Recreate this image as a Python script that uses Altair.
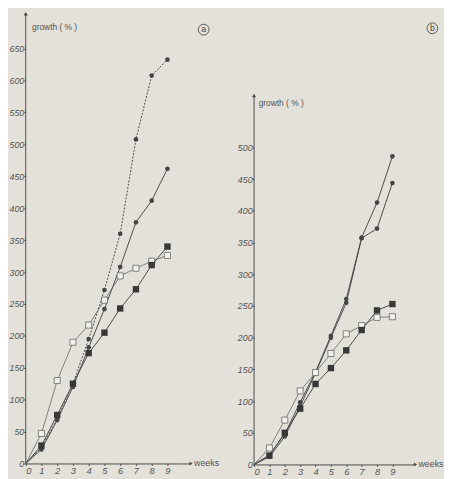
import altair as alt
import pandas as pd

weeks = [0, 1, 2, 3, 4, 5, 6, 7, 8, 9]

# panel a
a_circle_top = [0, 25, 70, 125, 195, 272, 360, 508, 608, 633]
a_circle = [0, 22, 68, 120, 182, 242, 308, 378, 412, 462]
a_open = [0, 47, 130, 190, 217, 256, 294, 306, 317, 326]
a_square = [0, 28, 76, 125, 173, 205, 243, 273, 311, 340]
a_ticks = [0, 50, 100, 150, 200, 250, 300, 350, 400, 450, 500, 550, 600, 650]

# panel b
b_circle_top = [0, 15, 48, 98, 146, 203, 261, 358, 413, 486]
b_circle = [0, 12, 44, 92, 144, 200, 255, 357, 372, 444]
b_open = [0, 26, 70, 116, 145, 175, 206, 219, 232, 233]
b_square = [0, 14, 50, 88, 127, 152, 180, 212, 243, 253]
b_ticks = [0, 50, 100, 150, 200, 250, 300, 350, 400, 450, 500]

BG = "#e3e1d9"
INK = "#4a4a4a"
FONT = "Liberation Sans"


def panel(series, ticks, ymax, axis_top, width, height, letter, letter_pos,
          ylabel_pos, weeks_x):
    xs = alt.Scale(domain=[0, 10.5], nice=False, zero=False)
    ys = alt.Scale(domain=[0, ymax], nice=False, zero=False)
    xax = alt.Axis(values=weeks, title=None, grid=False, domainColor=INK,
                   tickColor=INK, tickSize=2, labelFont=FONT, labelFontSize=9.5,
                   labelFontStyle="italic", labelColor="#555", labelPadding=0,
                   labelOverlap=False, tickCount=10)
    yax = alt.Axis(values=ticks, title=None, grid=False, domain=False,
                   tickColor=INK, tickSize=2, labelFont=FONT, labelFontSize=9,
                   labelFontStyle="italic", labelColor="#555", labelPadding=0,
                   labelOverlap=False, tickCount=len(ticks))

    def X(**kw):
        return alt.X(scale=xs, axis=xax, **kw)

    def Y(**kw):
        return alt.Y(scale=ys, axis=yax, **kw)

    one = alt.Data(values=[{"k": 1}])
    layers = []
    # y axis line with arrow
    layers.append(alt.Chart(one).mark_rule(color=INK, strokeWidth=1).encode(
        x=X(datum=0), y=Y(datum=0), y2=alt.datum(axis_top)))
    layers.append(alt.Chart(one).mark_point(shape="triangle-up", filled=True,
                                            color=INK, size=18, opacity=1).encode(
        x=X(datum=0), y=Y(datum=axis_top)))
    layers.append(alt.Chart(one).mark_point(shape="triangle-right", filled=True,
                                            color=INK, size=14, opacity=1).encode(
        x=X(datum=10.5), y=Y(datum=0)))
    for vals, kind in series:
        df = pd.DataFrame({"week": weeks, "value": vals})
        if kind == "dash":
            line = alt.Chart(df).mark_line(color=INK, strokeWidth=1, strokeDash=[2, 1.5])
        elif kind == "open":
            line = alt.Chart(df).mark_line(color="#666", strokeWidth=0.8)
        else:
            line = alt.Chart(df).mark_line(color=INK, strokeWidth=1)
        enc = dict(x=X(field="week", type="quantitative"),
                   y=Y(field="value", type="quantitative"))
        layers.append(line.encode(**enc))
        if kind == "open":
            pts = alt.Chart(df).mark_point(shape="square", filled=True, fill="#f2f1ec",
                                           stroke="#666", strokeWidth=0.8, size=38, opacity=1)
        elif kind == "square":
            pts = alt.Chart(df).mark_point(shape="square", filled=True, color="#383838",
                                           size=42, opacity=1)
        else:
            pts = alt.Chart(df).mark_point(shape="circle", filled=True, color="#444",
                                           size=22, opacity=1)
        layers.append(pts.encode(**enc).transform_filter("datum.week > 0"))
    # labels
    layers.append(alt.Chart(one).mark_text(text="growth ( % )", align="left",
                                           baseline="middle", font=FONT, fontSize=8.5,
                                           color="#555").encode(
        x=X(datum=ylabel_pos[0]), y=Y(datum=ylabel_pos[1])))
    layers.append(alt.Chart(one).mark_text(text="weeks", align="left", baseline="middle",
                                           font=FONT, fontSize=9, color="#555", dx=3).encode(
        x=X(datum=weeks_x), y=Y(datum=0)))
    layers.append(alt.Chart(one).mark_point(shape="circle", filled=False, color=INK,
                                            size=120, strokeWidth=0.9, opacity=1).encode(
        x=X(datum=letter_pos[0]), y=Y(datum=letter_pos[1])))
    layers.append(alt.Chart(one).mark_text(text=letter, align="center", baseline="middle",
                                           font=FONT, fontSize=9, color=INK, dy=-0.5).encode(
        x=X(datum=letter_pos[0]), y=Y(datum=letter_pos[1])))
    return alt.layer(*layers).properties(width=width, height=height)


pa = panel([(a_circle_top, "dash"), (a_circle, "circle"), (a_open, "open"),
            (a_square, "square")], a_ticks, 705, 705, 168, 457, "a",
           (11.3, 680), (0.4, 684), 10.5)
pb = panel([(b_circle_top, "circle"), (b_circle, "circle"), (b_open, "open"),
            (b_square, "square")], b_ticks, 711, 582, 164, 458, "b",
           (11.6, 688), (0.3, 570), 10.5)

chart = alt.hconcat(pa, pb, spacing=64, bounds="flush").properties(
    background=BG, padding={"left": 0, "top": 0, "right": 0, "bottom": 0}
).configure_view(stroke=None)

chart.save("out.html", embed_options={"renderer": "svg", "actions": False})
